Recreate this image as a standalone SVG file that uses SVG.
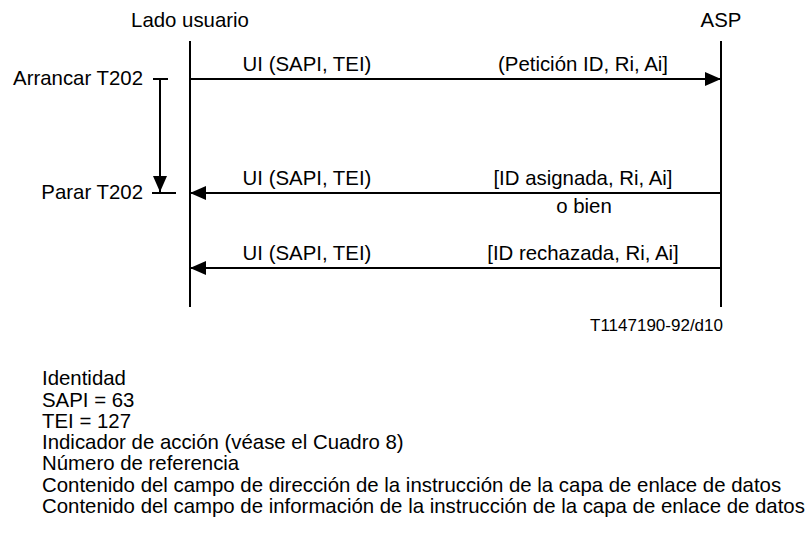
<svg xmlns="http://www.w3.org/2000/svg" width="811" height="538" viewBox="0 0 811 538">
<defs>
<style>
text{font-family:"Liberation Sans",Arial,sans-serif;font-size:20.4px;fill:#000}
.c{text-anchor:middle}
.r{text-anchor:end}
.s{font-size:17px}
.ln{stroke:#000;stroke-width:2;fill:none}
</style>
<marker id="ah" markerWidth="16" markerHeight="14" refX="16" refY="7" orient="auto" markerUnits="userSpaceOnUse">
<path d="M0,0 L16,7 L0,14 Z" fill="#000"/>
</marker>
</defs>
<rect width="811" height="538" fill="#fff"/>
<g id="user">
<text class="c" x="190" y="27">Lado usuario</text>
<line class="ln" x1="190" y1="41" x2="190" y2="307"/>
</g>
<g id="asp">
<text class="c" x="721" y="27">ASP</text>
<line class="ln" x1="721" y1="41" x2="721" y2="307"/>
</g>
<g id="timer">
<text class="r" x="143" y="85">Arrancar T202</text>
<text class="r" x="143" y="199">Parar T202</text>
<line class="ln" x1="153" y1="79" x2="168" y2="79"/>
<line class="ln" x1="152" y1="193" x2="176" y2="193"/>
<line class="ln" x1="160" y1="79" x2="160" y2="192" marker-end="url(#ah)"/>
</g>
<g id="connectors">
<line class="ln" x1="191" y1="79" x2="721" y2="79" marker-end="url(#ah)"/>
<line class="ln" x1="720" y1="193" x2="190" y2="193" marker-end="url(#ah)"/>
<line class="ln" x1="720" y1="268" x2="190" y2="268" marker-end="url(#ah)"/>
<text class="c" x="307" y="71">UI (SAPI, TEI)</text>
<text class="c" x="583" y="71">(Petición ID, Ri, Ai]</text>
<text class="c" x="307" y="185">UI (SAPI, TEI)</text>
<text class="c" x="583" y="185">[ID asignada, Ri, Ai]</text>
<text class="c" x="584" y="213">o bien</text>
<text class="c" x="307" y="260">UI (SAPI, TEI)</text>
<text class="c" x="583" y="260">[ID rechazada, Ri, Ai]</text>
</g>
<text class="s" x="590" y="331">T1147190-92/d10</text>
<g id="legend">
<text x="42" y="385">Identidad</text>
<text x="42" y="406.5">SAPI = 63</text>
<text x="42" y="427.8">TEI = 127</text>
<text x="42" y="449.1">Indicador de acción (véase el Cuadro 8)</text>
<text x="42" y="470.4">Número de referencia</text>
<text x="42" y="491.7">Contenido del campo de dirección de la instrucción de la capa de enlace de datos</text>
<text x="42" y="513">Contenido del campo de información de la instrucción de la capa de enlace de datos</text>
</g>
</svg>
